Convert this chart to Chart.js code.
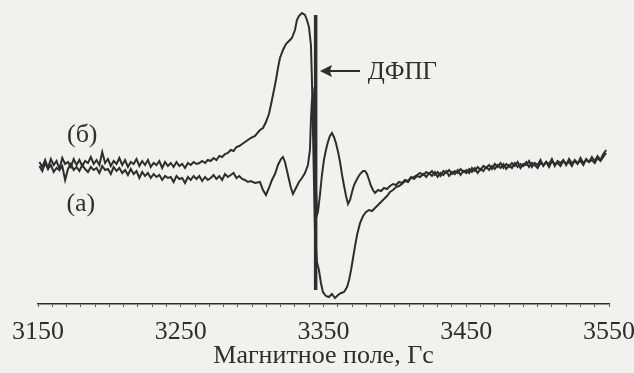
<!DOCTYPE html>
<html>
<head>
<meta charset="utf-8">
<script src="https://cdn.jsdelivr.net/npm/chart.js@4.4.1/dist/chart.umd.min.js"></script>
<style>
  html, body { margin: 0; padding: 0; background: #f1f1f0; }
  #wrap { width: 634px; height: 373px; }
</style>
</head>
<body>
<div id="wrap"><canvas id="epr" width="634" height="373"></canvas></div>
<script>
// EPR spectra, field in Gauss, signal in arbitrary units (0 = baseline)
const fieldB = [3151,3153,3155,3157,3159,3161,3163,3165,3167,3169,3171,3173,3175,3177,3179,3181,3183,3185,3187,3189,3191,3193,3195,3197,3199,3201,3203,3205,3207,3209,3211,3213,3215,3217,3219,3221,3223,3225,3227,3229,3231,3233,3235,3237,3239,3241,3243,3245,3247,3249,3251,3253,3255,3257,3259,3261,
  3263,3265,3267,3269,3271,3273,3275,3277,3279,3281,3283,3285,3287,3289,3291,3293,3295,3297,3299,
  3302,3305.5,3307.6,3309.7,3311.8,3313.9,3315.3,3316.7,3318.1,3319.5,3321.6,3323.7,3325.8,3327.9,3330,3331.4,3332.8,3334.9,3337,3338.4,3339.8,3341.2,3341.9,3342.6,3343.3,3344,3345.4,3346.8,3348.2,3349.6,3351.7,3353.8,3355.9,3358,3360.2,3362.3,3364.4,3366.5,3367.9,3369.3,3370.7,3372.1,3373.5,3375.6,3377.7,3379.8,3381.9,3384,3386.1,3388.2,3390.3,3392.4,3394.5,3396.6,3398.7,3400.8,3402.9,3405,3407.1,3409.2,3411.3,3413.4,3415.5,3417.6,
  3420,3422,3424,3426,3428,3430,3432,3434,3436,3438,3440,3442,3444,3446,3448,3450,3452,3454,3456,3458,3460,3462,3464,3466,3468,3470,3472,3474,3476,3478,3480,3482,3484,3486,3488,3490,3492,3494,3496,3498,3500,3502,3504,3506,3508,3510,3512,3514,3516,3518,3520,3522,3524,3526,3528,3530,3532,3534,3536,3538,3540,3542,3544,3546,3548];
const signalB = [3,-2,5,-3,6,0,4,-4,7,1,3,-2,6,0,5,-1,4,2,8,1,5,0,13,2,6,-1,4,1,7,0,5,-2,3,1,6,-1,4,0,5,-2,2,0,4,-3,3,-1,2,-2,3,-1,1,-3,2,0,3,1,
  2,4,2,5,4,7,5,9,8,11,12,15,14,18,19,21,23,25,27,
  29,35,37,43,51,65,75,85,97,107,115,121,124,127,135,145,149,152,150,145,138,120,85,35,-15,-65,-97,-105,-118,-127,-131,-132,-129,-133,-130,-128,-127,-122,-115,-105,-93,-81,-70,-58,-51,-47,-45,-46,-43,-40,-37,-34,-31,-27,-25,-22,-21,-19,-16,-17,-13,-12,-10,-8,
  -10,-7,-9,-6,-10,-7,-11,-6,-8,-5,-9,-6,-8,-4,-7,-5,-8,-3,-6,-2,-5,-1,-3,0,-4,1,-2,2,-3,1,-2,2,-1,3,-3,1,0,4,-2,2,0,5,-1,3,1,6,-1,4,2,5,0,6,2,4,1,7,2,5,3,8,4,9,5,11,15];

const fieldA = [3151,3153,3155,3157,3159,3161,3163,3165,3167,3169,3171,3173,3175,3177,3179,3181,3183,3185,3187,3189,3191,3193,3195,3197,3199,3201,3203,3205,3207,3209,3211,3213,3215,3217,3219,3221,3223,3225,3227,3229,3231,3233,3235,3237,3239,3241,3243,3245,3247,3249,3251,3253,3255,3257,3259,3261,
  3263,3265,3267,3269,3271,3273,3275,3277,3279,3281,3283,3285,3287,3289,3291,3293,3295,3297,3299,
  3302,3305.5,3307.6,3309.7,3311.8,3313.9,3316,3318.1,3320.2,3321.6,3323,3325.1,3327.2,3328.6,3330.7,3332.8,3334.9,3337,3339.1,3340.5,3341.2,3341.9,3342.6,3345.4,3346.1,3347.5,3348.9,3350.3,3351.7,3353.1,3354.5,3355.9,3357.3,3358.7,3360.2,3361.6,3363,3364.4,3365.8,3367.2,3368.6,3370,3371.4,3373.5,3375.6,3377.7,3379.1,3380.5,3381.9,3383.3,3384.7,3386.1,3388.2,3390.3,3392.4,3394.5,3396.6,3398.7,3400.8,3402.9,3405,3407.1,3409.2,3411.3,3413.4,3415.5,3417.6,
  3420,3422,3424,3426,3428,3430,3432,3434,3436,3438,3440,3442,3444,3446,3448,3450,3452,3454,3456,3458,3460,3462,3464,3466,3468,3470,3472,3474,3476,3478,3480,3482,3484,3486,3488,3490,3492,3494,3496,3498,3500,3502,3504,3506,3508,3510,3512,3514,3516,3518,3520,3522,3524,3526,3528,3530,3532,3534,3536,3538,3540,3542,3544,3546,3548];
const signalA = [-1,-6,2,-4,0,-7,-3,-5,-1,-15,-4,1,-5,-2,-6,0,-4,-7,-2,-5,-3,-8,-1,-5,-4,-9,-2,-6,-3,-8,-5,-10,-4,-9,-6,-13,-7,-11,-8,-13,-9,-12,-10,-15,-11,-13,-12,-17,-11,-14,-13,-18,-12,-15,-11,-14,
  -11,-16,-12,-15,-13,-10,-14,-11,-15,-9,-12,-10,-8,-13,-11,-14,-15,-17,-16,
  -18,-17,-25,-30,-23,-15,-9,0,6,8,3,-10,-23,-29,-23,-17,-13,-8,0,15,45,65,70,-50,-47,-30,-10,5,15,23,29,32,28,22,13,3,-10,-21,-31,-39,-35,-27,-20,-14,-9,-6,-6,-9,-15,-21,-25,-28,-25,-26,-23,-24,-21,-19,-20,-17,-18,-15,-16,-12,-14,-11,-12,
  -9,-12,-8,-11,-7,-12,-8,-10,-6,-11,-7,-9,-5,-10,-6,-8,-4,-7,-3,-8,-4,-6,-2,-5,-1,-4,0,-3,1,-4,0,-3,2,-2,1,-1,3,-2,2,0,-3,2,0,3,-2,4,1,2,-1,4,1,3,-1,5,2,4,0,6,3,5,2,7,4,8,12];

// DPPH reference line
const dpphField = [3344.5, 3344.5];
const dpphSignal = [150, -125];

const xTicks = [3150, 3250, 3350, 3450, 3550];
const xTitle = 'Магнитное поле, Гс';
const dpphLabel = 'ДФПГ';
const labelA = '(а)';
const labelB = '(б)';

const ink = '#2e2e2e';
const serif = "'Liberation Serif', 'DejaVu Serif', serif";

function toPoints(xs, ys) {
    return xs.map((x, i) => ({ x: x, y: ys[i] }));
}

const labelsPlugin = {
    id: 'eprLabels',
    afterDatasetsDraw(chart) {
        const ctx = chart.ctx;
        const xs = chart.scales.x;
        const ys = chart.scales.y;
        ctx.save();
        ctx.fillStyle = ink;
        ctx.strokeStyle = ink;

        // arrow pointing at the DPPH line
        const tipX = xs.getPixelForValue(3347.5);
        const tailX = xs.getPixelForValue(3375.6);
        const ay = ys.getPixelForValue(94);
        ctx.lineWidth = 2;
        ctx.beginPath();
        ctx.moveTo(tailX, ay);
        ctx.lineTo(tipX + 8, ay);
        ctx.stroke();
        ctx.beginPath();
        ctx.moveTo(tipX, ay);
        ctx.lineTo(tipX + 12, ay - 6);
        ctx.lineTo(tipX + 10, ay);
        ctx.lineTo(tipX + 12, ay + 6);
        ctx.closePath();
        ctx.fill();

        ctx.font = '25px ' + serif;
        ctx.textBaseline = 'middle';
        ctx.textAlign = 'left';
        ctx.fillText(dpphLabel, xs.getPixelForValue(3381), ay + 1);

        ctx.font = '26px ' + serif;
        ctx.textAlign = 'center';
        ctx.fillText(labelB, xs.getPixelForValue(3181), ys.getPixelForValue(30));
        ctx.fillText(labelA, xs.getPixelForValue(3180), ys.getPixelForValue(-39));
        ctx.restore();
    }
};

new Chart(document.getElementById('epr'), {
    type: 'line',
    data: {
        datasets: [
            {
                label: 'б',
                data: toPoints(fieldB, signalB),
                borderColor: ink,
                borderWidth: 2,
                pointRadius: 0,
                tension: 0
            },
            {
                label: 'а',
                data: toPoints(fieldA, signalA),
                borderColor: ink,
                borderWidth: 2,
                pointRadius: 0,
                tension: 0
            },
            {
                label: 'ДФПГ',
                data: toPoints(dpphField, dpphSignal),
                borderColor: ink,
                borderWidth: 3.5,
                pointRadius: 0
            }
        ]
    },
    options: {
        responsive: false,
        animation: false,
        layout: { padding: { left: 38, right: 25, top: 4, bottom: 0 } },
        plugins: {
            legend: { display: false },
            tooltip: { enabled: false }
        },
        scales: {
            x: {
                type: 'linear',
                min: 3150,
                max: 3550,
                afterFit(scale) {
                    scale.height = 69;
                    scale.paddingLeft = 0;
                    scale.paddingRight = 0;
                },
                afterBuildTicks(scale) {
                    const t = [];
                    for (let v = 3150; v <= 3550; v += 10) t.push({ value: v });
                    scale.ticks = t;
                },
                border: { display: true, color: ink, width: 1.6 },
                grid: {
                    display: true,
                    drawOnChartArea: false,
                    drawTicks: true,
                    tickLength: 3,
                    color: '#555',
                    lineWidth: 1
                },
                ticks: {
                    autoSkip: false,
                    maxRotation: 0,
                    padding: 10,
                    color: ink,
                    font: { family: serif, size: 26 },
                    callback: (v) => xTicks.includes(v) ? String(v) : ''
                },
                title: {
                    display: true,
                    text: xTitle,
                    color: ink,
                    font: { family: serif, size: 26 },
                    padding: { top: 0, bottom: 1 }
                }
            },
            y: {
                display: false,
                min: -139,
                max: 161
            }
        }
    },
    plugins: [labelsPlugin]
});
</script>
</body>
</html>
